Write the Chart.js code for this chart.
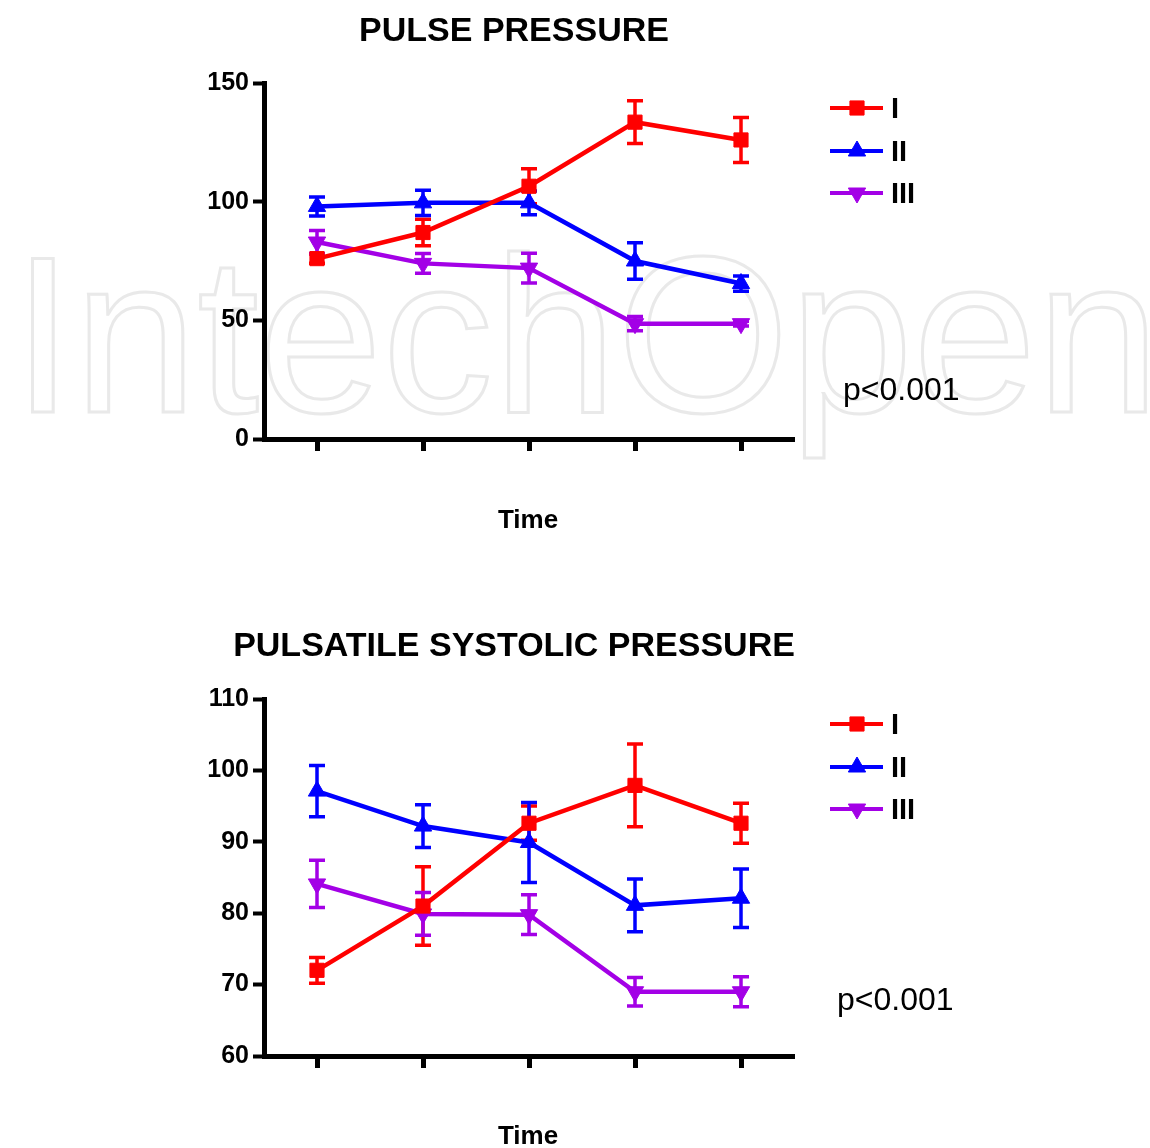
<!DOCTYPE html>
<html>
<head>
<meta charset="utf-8">
<script src="https://cdn.jsdelivr.net/npm/chart.js@4/dist/chart.umd.min.js"></script>
<style>
html, body { margin: 0; padding: 0; background: #fff; }
canvas { display: block; }
</style>
</head>
<body>
<canvas id="pulse" width="1150" height="574"></canvas>
<canvas id="systolic" width="1150" height="574"></canvas>
<script>
'use strict';
// time points (no labels shown on the axis)
let timePoints = ['T1', 'T2', 'T3', 'T4', 'T5'];
let groupNames = ['I', 'II', 'III'];
let groupColors = ['#ff0000', '#0000ff', '#a300e6'];
let groupStyles = ['rect', 'triangle', 'triangle'];
let groupRotation = [0, 0, 180];

// pulse pressure
let pulseTicks = [0, 50, 100, 150];
let pulseI = [76, 87, 106.5, 133.5, 126];
let pulseII = [98, 99.5, 99.5, 75, 65.5];
let pulseIII = [83, 74, 72, 48.6, 48.6];
let pulseErrI = [2, 5.6, 7.4, 9, 9.5];
let pulseErrII = [4, 5.3, 5, 7.7, 3.2];
let pulseErrIII = [4.8, 4.2, 6.3, 3, 1];

// pulsatile systolic pressure
let systolicTicks = [60, 70, 80, 90, 100, 110];
let systolicI = [72, 81, 92.6, 97.9, 92.6];
let systolicII = [97.1, 92.2, 89.9, 81.1, 82.1];
let systolicIII = [84.1, 79.9, 79.8, 69, 69];
let systolicErrI = [1.8, 5.5, 2.4, 5.8, 2.8];
let systolicErrII = [3.6, 3, 5.6, 3.7, 4.1];
let systolicErrIII = [3.3, 3, 2.8, 2, 2.1];

let fontFam = '"Liberation Sans", Arial, sans-serif';
Chart.defaults.font.family = fontFam;
Chart.defaults.color = '#000';

function makeSets(values, errs){
    return values.map(function(v, i){
        return {
            label: groupNames[i],
            data: v,
            errors: errs[i],
            borderColor: groupColors[i],
            backgroundColor: groupColors[i],
            borderWidth: 4.5,
            pointStyle: groupStyles[i],
            rotation: groupRotation[i],
            pointRotation: groupRotation[i],
            pointRadius: i === 0 ? 10 : 10,
            pointBorderWidth: 1,
            tension: 0
        };
    });
}

// error bars drawn under the lines
let errorBars = {
    id: 'errorBars',
    beforeDatasetsDraw(chart){
        let ctx = chart.ctx;
        let xs = chart.scales.x;
        let ys = chart.scales.y;
        chart.data.datasets.forEach(function(ds){
            ctx.save();
            ctx.strokeStyle = ds.borderColor;
            ctx.lineWidth = 3.5;
            ds.data.forEach(function(v, i){
                let e = ds.errors[i];
                let x = xs.getPixelForValue(i);
                let hi = ys.getPixelForValue(v + e);
                let lo = ys.getPixelForValue(v - e);
                ctx.beginPath();
                ctx.moveTo(x, hi); ctx.lineTo(x, lo);
                ctx.moveTo(x - 8, hi); ctx.lineTo(x + 8, hi);
                ctx.moveTo(x - 8, lo); ctx.lineTo(x + 8, lo);
                ctx.stroke();
            });
            ctx.restore();
        });
    }
};

// title, legend, axis title and p value
let decor = {
    id: 'decor',
    beforeDraw(chart, args, opts){
        if(!opts.watermark) return;
        let ctx = chart.ctx;
        ctx.save();
        ctx.font = '222px ' + fontFam;
        ctx.strokeStyle = '#e9e9e9';
        ctx.lineWidth = 3;
        ctx.textBaseline = 'alphabetic';
        ctx.strokeText('IntechOpen', 12, 412);
        ctx.restore();
    },
    afterDraw(chart, args, opts){
        let ctx = chart.ctx;
        ctx.save();
        ctx.fillStyle = '#000';
        ctx.textBaseline = 'alphabetic';
        ctx.textAlign = 'center';
        ctx.font = 'bold 34px ' + fontFam;
        ctx.fillText(opts.title, 514, opts.titleY);
        ctx.font = 'bold 26px ' + fontFam;
        ctx.fillText('Time', 528, opts.timeY);
        ctx.textAlign = 'left';
        ctx.font = '32px ' + fontFam;
        ctx.fillText('p<0.001', opts.pX, opts.pY);
        chart.data.datasets.forEach(function(ds, i){
            let y = opts.legendY[i];
            ctx.strokeStyle = ds.borderColor;
            ctx.lineWidth = 4;
            ctx.beginPath();
            ctx.moveTo(830, y); ctx.lineTo(883, y);
            ctx.stroke();
            ctx.fillStyle = ds.borderColor;
            ctx.lineWidth = 1;
            Chart.helpers.drawPoint(ctx, {pointStyle: ds.pointStyle, rotation: ds.pointRotation, radius: ds.pointRadius, borderWidth: 1}, 857, y);
            ctx.fillStyle = '#000';
            ctx.font = 'bold 29px ' + fontFam;
            ctx.fillText(ds.label, 891, y + 10);
        });
        ctx.restore();
    }
};

function makeChart(id, sets, ticks, pad, decorOpts){
    return new Chart(document.getElementById(id), {
        type: 'line',
        data: { labels: timePoints, datasets: sets },
        options: {
            responsive: false,
            animation: false,
            layout: { padding: pad },
            plugins: { legend: { display: false }, tooltip: { enabled: false }, decor: decorOpts },
            scales: {
                x: {
                    offset: true,
                    border: { display: true, width: 5, color: '#000' },
                    grid: { drawOnChartArea: false, drawTicks: true, tickLength: 12, tickWidth: 5, tickColor: '#000', offset: false },
                    ticks: { display: false },
                    afterFit(s){ s.height = 20; }
                },
                y: {
                    min: ticks[0],
                    max: ticks[ticks.length - 1],
                    border: { display: true, width: 5, color: '#000' },
                    grid: { drawOnChartArea: false, drawTicks: true, tickLength: 11, tickWidth: 4, tickColor: '#000' },
                    ticks: { stepSize: ticks[1] - ticks[0], padding: 4, color: '#000', font: { size: 25, weight: 'bold' } },
                    afterFit(s){ s.width = 100; }
                }
            }
        },
        plugins: [errorBars, decor]
    });
}

makeChart('pulse',
    makeSets([pulseI, pulseII, pulseIII], [pulseErrI, pulseErrII, pulseErrIII]),
    pulseTicks,
    { left: 164, right: 356, top: 83, bottom: 115 },
    { title: 'PULSE PRESSURE', titleY: 41, timeY: 528, pX: 843, pY: 400, legendY: [108, 151, 193], watermark: true });

makeChart('systolic',
    makeSets([systolicI, systolicII, systolicIII], [systolicErrI, systolicErrII, systolicErrIII]),
    systolicTicks,
    { left: 164, right: 356, top: 125, bottom: 72 },
    { title: 'PULSATILE SYSTOLIC PRESSURE', titleY: 82, timeY: 570, pX: 837, pY: 1010 - 574, legendY: [150, 193, 235], watermark: false });
</script>
</body>
</html>
